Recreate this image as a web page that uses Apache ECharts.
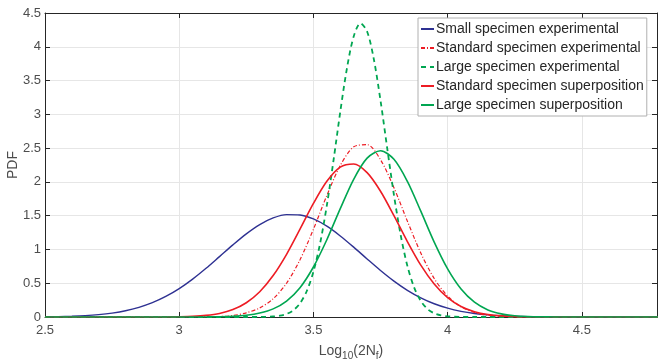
<!DOCTYPE html>
<html>
<head>
<meta charset="utf-8">
<script src="https://cdn.jsdelivr.net/npm/echarts@6/dist/echarts.min.js"></script>
<style>html,body{margin:0;padding:0;background:#fff;}#c{width:658px;height:363px;}</style>
</head>
<body>
<div id="c"></div>
<script>
var seriesNames = ["Small specimen experimental","Standard specimen experimental","Large specimen experimental","Standard specimen superposition","Large specimen superposition"];
var xTicks = ["2.5","3","3.5","4","4.5"];
var yTicks = ["0","0.5","1","1.5","2","2.5","3","3.5","4","4.5"];

var xs = [2.50,2.55,2.60,2.65,2.70,2.75,2.80,2.85,2.90,2.95,3.00,3.05,3.10,3.15,3.20,3.25,3.30,3.35,3.40,3.45,3.50,3.55,3.60,3.65,3.70,3.75,3.80,3.85,3.90,3.95,4.00,4.05,4.10,4.15,4.20,4.25,4.30,4.35,4.40,4.45,4.50,4.55,4.60,4.65,4.70,4.75,4.80];
var smallExp = [0.003,0.006,0.011,0.020,0.035,0.058,0.092,0.143,0.212,0.304,0.420,0.561,0.721,0.894,1.068,1.231,1.368,1.467,1.516,1.510,1.451,1.344,1.200,1.034,0.859,0.688,0.531,0.395,0.284,0.196,0.131,0.084,0.052,0.031,0.018,0.010,0.005,0.003,0.001,0.001,0,0,0,0,0,0,0];
var standardExp = [0,0,0,0,0,0,0,0,0,0,0.000,0.001,0.002,0.007,0.021,0.062,0.135,0.270,0.500,0.847,1.299,1.798,2.242,2.519,2.551,2.328,1.914,1.419,0.947,0.570,0.309,0.151,0.067,0.026,0.009,0.003,0.001,0,0,0,0,0,0,0,0,0,0];
var standardSup = [0,0,0,0,0,0,0,0,0,0.001,0.004,0.010,0.024,0.053,0.110,0.211,0.374,0.613,0.928,1.300,1.681,2.009,2.219,2.265,2.137,1.862,1.500,1.117,0.768,0.489,0.287,0.156,0.078,0.036,0.016,0.006,0.002,0.001,0,0,0,0,0,0,0,0,0];
var largeSup = [0,0,0,0,0,0,0,0,0,0,0,0.000,0.001,0.003,0.009,0.025,0.058,0.120,0.236,0.434,0.740,1.144,1.604,2.039,2.352,2.460,2.334,2.008,1.567,1.109,0.712,0.414,0.219,0.105,0.046,0.018,0.006,0.002,0.001,0,0,0,0,0,0,0,0];

var xsFine = [2.50,3.000,3.250,3.300,3.325,3.350,3.375,3.400,3.425,3.450,3.475,3.500,3.525,3.550,3.575,3.600,3.625,3.650,3.675,3.700,3.725,3.750,3.775,3.800,3.825,3.850,3.875,3.900,3.925,3.950,3.975,4.000,4.025,4.050,4.100,4.80];
var largeExp = [0,0,0.000,0.001,0.003,0.008,0.019,0.045,0.099,0.202,0.381,0.669,1.091,1.652,2.323,3.037,3.684,4.153,4.348,4.227,3.818,3.203,2.495,1.806,1.214,0.757,0.439,0.237,0.118,0.055,0.024,0.010,0.004,0.001,0,0];

function pairs(x, y){ return x.map(function(v,i){ return [v, y[i]]; }); }

var axisColor = '#262626';
var labelColor = '#4d4d4d';
var font = 'Liberation Sans, Arial, Helvetica, sans-serif';

var chart = echarts.init(document.getElementById('c'), null, {renderer:'canvas'});
chart.setOption({
  animation: false,
  backgroundColor: '#fff',
  grid: {left: 45, right: 1, top: 13, bottom: 46, containLabel: false, outerBoundsMode: 'none'},
  legend: {
    orient: 'vertical', left: 418, top: 18,
    itemWidth: 13, itemHeight: 14, itemGap: 5,
    padding: [4, 3, 4, 2],
    backgroundColor: '#fff', borderColor: '#b0b0b0', borderWidth: 1,
    itemStyle: {opacity: 0},
    textStyle: {color: '#262626', fontSize: 14, fontFamily: font, padding: [0, 0, 0, -3]},
    data: seriesNames
  },
  xAxis: [{
    type: 'value', min: 2.5, max: 4.78, interval: 0.5,
    axisLine: {show: true, lineStyle: {color: axisColor, width: 1}},
    axisTick: {show: true, inside: true, length: 5, lineStyle: {color: axisColor}},
    axisLabel: {show: true, color: labelColor, fontSize: 13, fontFamily: font, margin: 7, showMaxLabel: false,
      formatter: function(v){ var i = xTicks.indexOf(String(+v.toFixed(2))); return i >= 0 ? xTicks[i] : ''; }},
    splitLine: {show: true, lineStyle: {color: '#e6e6e6', width: 1}},
    name: '{m|Log}{s|10}{m|(2N}{s|f}{m|)}',
    nameLocation: 'middle', nameGap: 24,
    nameTextStyle: {
      color: labelColor, fontFamily: font,
      rich: {
        m: {fontSize: 14, fontFamily: font, color: labelColor},
        s: {fontSize: 10, fontFamily: font, color: labelColor, padding: [10, 0, 0, 0]}
      }
    }
  },{
    type: 'value', position: 'top', min: 2.5, max: 4.78, interval: 0.5,
    axisLine: {show: true, onZero: false, lineStyle: {color: axisColor, width: 1}},
    axisTick: {show: true, inside: true, length: 5, lineStyle: {color: axisColor}},
    axisLabel: {show: false}, splitLine: {show: false}
  }],
  yAxis: [{
    type: 'value', min: 0, max: 4.5, interval: 0.5,
    axisLine: {show: true, lineStyle: {color: axisColor, width: 1}},
    axisTick: {show: true, inside: true, length: 5, lineStyle: {color: axisColor}},
    axisLabel: {color: labelColor, fontSize: 13, fontFamily: font, margin: 4,
      formatter: function(v){ var i = yTicks.indexOf(String(+v.toFixed(2))); return i >= 0 ? yTicks[i] : ''; }},
    splitLine: {show: true, lineStyle: {color: '#e6e6e6', width: 1}},
    name: 'PDF', nameLocation: 'middle', nameGap: 25, nameMoveOverlap: false,
    nameTextStyle: {color: labelColor, fontSize: 14, fontFamily: font}
  },{
    type: 'value', position: 'right', min: 0, max: 4.5, interval: 0.5,
    axisLine: {show: true, onZero: false, lineStyle: {color: axisColor, width: 1}},
    axisTick: {show: true, inside: true, length: 5, lineStyle: {color: axisColor}},
    axisLabel: {show: false}, splitLine: {show: false}
  }],
  series: [
    {name: seriesNames[0], type: 'line', data: pairs(xs, smallExp), smooth: 0.3, symbol: 'none',
      lineStyle: {color: '#2e3192', width: 1.4}, itemStyle: {color: '#2e3192'}},
    {name: seriesNames[1], type: 'line', data: pairs(xs, standardExp), smooth: 0.3, symbol: 'none',
      lineStyle: {color: '#ed1c24', width: 1.2, type: [4, 2, 1, 2]}, itemStyle: {color: '#ed1c24'}},
    {name: seriesNames[2], type: 'line', data: pairs(xsFine, largeExp), smooth: 0.3, symbol: 'none',
      lineStyle: {color: '#00a651', width: 1.8, type: [5, 4]}, itemStyle: {color: '#00a651'}},
    {name: seriesNames[3], type: 'line', data: pairs(xs, standardSup), smooth: 0.3, symbol: 'none',
      lineStyle: {color: '#ed1c24', width: 1.6}, itemStyle: {color: '#ed1c24'}},
    {name: seriesNames[4], type: 'line', data: pairs(xs, largeSup), smooth: 0.3, symbol: 'none',
      lineStyle: {color: '#00a651', width: 1.6}, itemStyle: {color: '#00a651'}}
  ]
});
</script>
</body>
</html>
